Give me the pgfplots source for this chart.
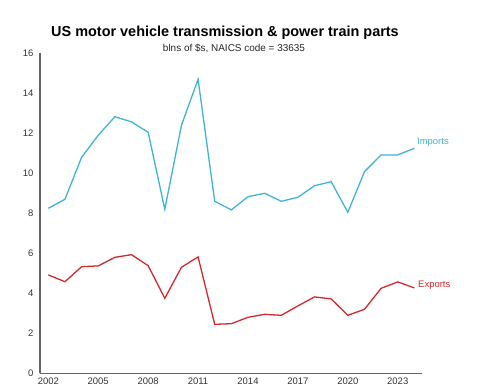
\documentclass[border=0pt]{standalone}
\usepackage{pgfplots}
\pgfplotsset{compat=1.18}
\usepackage{fontspec}
\setmainfont{Liberation Sans}
\definecolor{impc}{RGB}{62,180,214}
\definecolor{expc}{RGB}{212,40,44}
\definecolor{axc}{RGB}{100,100,100}
\begin{document}
\begin{tikzpicture}[x=1bp,y=1bp]
\path (0,0) rectangle (503,391);
\begin{axis}[
  at={(40bp,17.7bp)}, anchor=south west,
  scale only axis, width=381.7bp, height=320bp,
  xmin=2001.5, xmax=2024.44, ymin=0, ymax=16,
  axis x line*=bottom, axis y line*=left,
  axis line style={axc, line width=1.2pt, -},
  xtick={2002,2005,...,2023}, ytick={0,2,...,16},
  major tick length=0pt,
  xticklabel style={font=\fontsize{9.5}{10}\selectfont, text=black!80, yshift=-1bp},
  yticklabel style={font=\fontsize{9.5}{10}\selectfont, text=black!80, xshift=-3bp},
  /pgf/number format/assume math mode=true,
  /pgf/number format/1000 sep={},
  clip=false,
]
\addplot[impc, line width=1.3pt] coordinates {
(2002,8.25)(2003,8.7)(2004,10.8)(2005,11.9)(2006,12.83)(2007,12.57)(2008,12.05)
(2009,8.2)(2010,12.4)(2011,14.7)(2012,8.6)(2013,8.17)(2014,8.83)(2015,9.0)
(2016,8.6)(2017,8.8)(2018,9.38)(2019,9.58)(2020,8.05)(2021,10.08)(2022,10.92)
(2023,10.92)(2024,11.25)};
\addplot[expc, line width=1.3pt] coordinates {
(2002,4.92)(2003,4.58)(2004,5.33)(2005,5.37)(2006,5.8)(2007,5.93)(2008,5.38)
(2009,3.75)(2010,5.3)(2011,5.82)(2012,2.45)(2013,2.48)(2014,2.8)(2015,2.95)
(2016,2.9)(2017,3.37)(2018,3.82)(2019,3.72)(2020,2.9)(2021,3.2)(2022,4.25)
(2023,4.57)(2024,4.27)};
\end{axis}
\node[anchor=west, text=impc, font=\fontsize{9.5}{10}\selectfont, inner sep=0] at (417,249) {Imports};
\node[anchor=west, text=expc, font=\fontsize{9.5}{10}\selectfont, inner sep=0] at (418,105.5) {Exports};
\node[font=\bfseries\fontsize{14.5}{16}\selectfont, inner sep=0] at (225,358) {US motor vehicle transmission \& power train parts};
\node[font=\fontsize{10}{11}\selectfont, inner sep=0, text=black!85] at (234,343) {blns of \$s, NAICS code = 33635};
\end{tikzpicture}
\end{document}
